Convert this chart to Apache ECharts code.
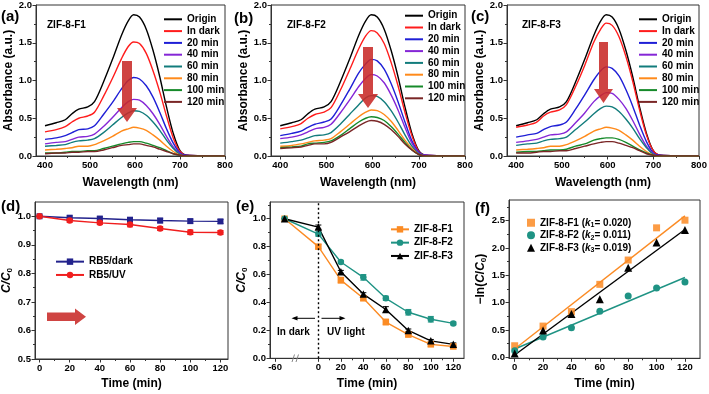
<!DOCTYPE html>
<html>
<head>
<meta charset="utf-8">
<script src="https://cdn.jsdelivr.net/npm/echarts@6.0.0/dist/echarts.min.js"></script>
<style>
  html, body { margin: 0; padding: 0; background: #fff; }
  #chart { width: 709px; height: 394px; }
</style>
</head>
<body>
<div id="chart"></div>
<script>
// ---- data: UV-vis spectra (a-c) ----
var wavelengths = [400, 425, 445, 460, 475, 495, 510, 530, 550, 570, 585, 597, 610, 625, 640, 655, 670, 685, 700, 715, 800];
var specNames = ['Origin', 'In dark', '20 min', '40 min', '60 min', '80 min', '100 min', '120 min'];
var origin = [0.40, 0.44, 0.48, 0.56, 0.62, 0.65, 0.72, 0.98, 1.28, 1.60, 1.79, 1.87, 1.84, 1.68, 1.40, 1.05, 0.65, 0.30, 0.07, 0.01, 0];

var aDark = [0.32, 0.35, 0.39, 0.45, 0.50, 0.53, 0.58, 0.79, 1.03, 1.29, 1.45, 1.51, 1.49, 1.36, 1.13, 0.85, 0.53, 0.24, 0.06, 0.01, 0];
var a20 = [0.22, 0.24, 0.27, 0.31, 0.35, 0.36, 0.40, 0.55, 0.71, 0.89, 1.00, 1.04, 1.02, 0.93, 0.78, 0.58, 0.36, 0.17, 0.04, 0.01, 0];
var a40 = [0.16, 0.18, 0.19, 0.22, 0.25, 0.26, 0.29, 0.39, 0.51, 0.64, 0.72, 0.75, 0.74, 0.67, 0.56, 0.42, 0.26, 0.12, 0.03, 0, 0];
var a60 = [0.13, 0.14, 0.15, 0.18, 0.20, 0.21, 0.23, 0.31, 0.41, 0.51, 0.57, 0.60, 0.59, 0.54, 0.45, 0.34, 0.21, 0.10, 0.02, 0, 0];
var a80 = [0.08, 0.09, 0.10, 0.11, 0.13, 0.13, 0.15, 0.20, 0.26, 0.33, 0.36, 0.38, 0.37, 0.34, 0.28, 0.21, 0.13, 0.06, 0.01, 0, 0];
var a100 = [0.04, 0.04, 0.05, 0.06, 0.06, 0.07, 0.07, 0.10, 0.13, 0.16, 0.18, 0.19, 0.19, 0.17, 0.14, 0.11, 0.07, 0.03, 0.01, 0, 0];
var a120 = [0.03, 0.04, 0.04, 0.05, 0.05, 0.06, 0.06, 0.08, 0.11, 0.14, 0.15, 0.16, 0.16, 0.14, 0.12, 0.09, 0.06, 0.03, 0.01, 0, 0];

var bDark = [0.36, 0.39, 0.43, 0.50, 0.55, 0.58, 0.64, 0.87, 1.14, 1.42, 1.59, 1.66, 1.63, 1.49, 1.24, 0.93, 0.58, 0.27, 0.06, 0.01, 0];
var b20 = [0.27, 0.30, 0.33, 0.38, 0.42, 0.45, 0.49, 0.67, 0.88, 1.10, 1.22, 1.28, 1.26, 1.15, 0.96, 0.72, 0.45, 0.20, 0.05, 0.01, 0];
var b40 = [0.23, 0.25, 0.28, 0.32, 0.36, 0.38, 0.42, 0.57, 0.74, 0.92, 1.03, 1.08, 1.06, 0.97, 0.81, 0.61, 0.38, 0.17, 0.04, 0.01, 0];
var b60 = [0.17, 0.19, 0.21, 0.24, 0.27, 0.28, 0.31, 0.42, 0.55, 0.68, 0.77, 0.80, 0.79, 0.72, 0.60, 0.45, 0.28, 0.13, 0.03, 0, 0];
var b80 = [0.13, 0.14, 0.16, 0.18, 0.20, 0.21, 0.23, 0.32, 0.42, 0.52, 0.58, 0.61, 0.60, 0.55, 0.46, 0.34, 0.21, 0.10, 0.02, 0, 0];
var b100 = [0.11, 0.12, 0.13, 0.16, 0.17, 0.18, 0.20, 0.27, 0.36, 0.45, 0.50, 0.52, 0.51, 0.47, 0.39, 0.29, 0.18, 0.08, 0.02, 0, 0];
var b120 = [0.10, 0.11, 0.12, 0.14, 0.16, 0.16, 0.18, 0.25, 0.32, 0.40, 0.45, 0.47, 0.46, 0.42, 0.35, 0.26, 0.16, 0.08, 0.02, 0, 0];

var cDark = [0.38, 0.41, 0.45, 0.53, 0.58, 0.61, 0.68, 0.92, 1.20, 1.51, 1.68, 1.76, 1.73, 1.58, 1.32, 0.99, 0.61, 0.28, 0.07, 0.01, 0];
var c20 = [0.25, 0.28, 0.30, 0.35, 0.39, 0.41, 0.45, 0.62, 0.81, 1.01, 1.13, 1.18, 1.16, 1.06, 0.88, 0.66, 0.41, 0.19, 0.04, 0.01, 0];
var c40 = [0.18, 0.20, 0.22, 0.25, 0.28, 0.29, 0.32, 0.44, 0.57, 0.72, 0.80, 0.84, 0.83, 0.75, 0.63, 0.47, 0.29, 0.13, 0.03, 0, 0];
var c60 = [0.14, 0.16, 0.17, 0.20, 0.22, 0.23, 0.25, 0.35, 0.45, 0.56, 0.63, 0.66, 0.65, 0.59, 0.49, 0.37, 0.23, 0.11, 0.02, 0, 0];
var c80 = [0.08, 0.09, 0.10, 0.11, 0.13, 0.13, 0.15, 0.20, 0.26, 0.33, 0.36, 0.38, 0.37, 0.34, 0.28, 0.21, 0.13, 0.06, 0.01, 0, 0];
var c100 = [0.05, 0.06, 0.06, 0.07, 0.08, 0.08, 0.09, 0.13, 0.16, 0.21, 0.23, 0.24, 0.24, 0.22, 0.18, 0.13, 0.08, 0.04, 0.01, 0, 0];
var c120 = [0.04, 0.04, 0.05, 0.06, 0.06, 0.07, 0.07, 0.10, 0.13, 0.16, 0.18, 0.19, 0.19, 0.17, 0.14, 0.11, 0.07, 0.03, 0.01, 0, 0];

// ---- data: (d) blank tests ----
var timeD = [0, 20, 40, 60, 80, 100, 120];
var darkD = [1.0, 0.995, 0.992, 0.988, 0.985, 0.983, 0.982];
var darkErr = [0, 0.006, 0.006, 0.007, 0.008, 0.007, 0.007];
var uvD = [1.0, 0.985, 0.977, 0.971, 0.957, 0.944, 0.943];
var uvErr = [0, 0.006, 0.006, 0.008, 0.007, 0.008, 0.007];

// ---- data: (e) degradation ----
var timeE = [-30, 0, 20, 40, 60, 80, 100, 120];
var sampleNames = ['ZIF-8-F1', 'ZIF-8-F2', 'ZIF-8-F3'];
var f1E = [1.0, 0.80, 0.56, 0.43, 0.26, 0.17, 0.10, 0.085];
var f2E = [1.0, 0.89, 0.69, 0.58, 0.43, 0.33, 0.28, 0.25];
var f3E = [1.0, 0.94, 0.62, 0.46, 0.35, 0.20, 0.125, 0.10];
var f1Err = [0, 0.015, 0.02, 0.015, 0.02, 0.015, 0.015, 0.01];
var f2Err = [0, 0.015, 0.01, 0.02, 0.015, 0.02, 0.02, 0.01];
var f3Err = [0, 0.015, 0.01, 0.01, 0.02, 0.01, 0.01, 0.01];

// ---- data: (f) kinetics ----
var timeF = [0, 20, 40, 60, 80, 100, 120];
var f1F = [0.21, 0.57, 0.835, 1.335, 1.78, 2.37, 2.51];
var f2F = [0.12, 0.37, 0.54, 0.84, 1.12, 1.27, 1.38];
var f3F = [0.07, 0.49, 0.79, 1.06, 1.64, 2.10, 2.33];
var fitX = [0, 120];
var fit1 = [0.15, 2.59];
var fit2 = [0.15, 1.46];
var fit3 = [0.04, 2.34];
var kinNames = ['F1 kinetics', 'F2 kinetics', 'F3 kinetics'];
var kValues = ['0.020', '0.011', '0.019'];

// ---- tick labels ----
var wlTicks = [400, 500, 600, 700, 800];
var wlMinor = [450, 550, 650, 750];
var absTicks = [0, 0.5, 1.0, 1.5, 2.0];
var absMinor = [0.25, 0.75, 1.25, 1.75];
var timeTicks = [0, 20, 40, 60, 80, 100, 120];
var timeMinor = [10, 30, 50, 70, 90, 110];
var ccTicksD = [0.5, 0.6, 0.7, 0.8, 0.9, 1.0];
var ccMinorD = [0.55, 0.65, 0.75, 0.85, 0.95];
var timeTicksE = [-38.5, 0, 20, 40, 60, 80, 100, 120];   // first tick is the broken "-60"
var ccTicksE = [0, 0.2, 0.4, 0.6, 0.8, 1.0];
var ccMinorE = [0.1, 0.3, 0.5, 0.7, 0.9, 1.1];
var lnTicks = [0, 0.5, 1.0, 1.5, 2.0, 2.5];
var lnMinor = [0.25, 0.75, 1.25, 1.75, 2.25, 2.75];

var FONT = '"Liberation Sans", Arial, Helvetica, sans-serif';
var AX = '#333';
var specColors = ['#000000', '#ff1c1c', '#1f1fd6', '#8526d6', '#127c7c', '#ff8a1a', '#168a2a', '#7a2626'];
var ORANGE = '#fb8b24', TEAL = '#1f9384', NAVY = '#22228c', RED = '#f01e1e';

function txt(size, extra) {
  return Object.assign({ fontFamily: FONT, fontWeight: 'bold', fontSize: size, color: '#000' }, extra || {});
}
var nameRich = {
  n: { fontFamily: FONT, fontWeight: 'bold', fontSize: 12, lineHeight: 14, verticalAlign: 'middle', color: '#000' },
  i: { fontFamily: FONT, fontWeight: 'bold', fontStyle: 'italic', fontSize: 12, lineHeight: 14, verticalAlign: 'middle', color: '#000' },
  s: { fontFamily: FONT, fontWeight: 'bold', fontSize: 8, lineHeight: 8, verticalAlign: 'bottom', color: '#000' }
};
var ccName = '{i|C}{i|/}{i|C}{s|0}';
var lnName = '{n|\u2212ln(}{i|C}{n|/}{i|C}{s|0}{n|)}';

var grids = [
  { left: 36, top: 5, width: 189, height: 151 },
  { left: 271, top: 5, width: 194, height: 151 },
  { left: 507, top: 5, width: 192, height: 151 },
  { left: 35, top: 202, width: 193, height: 157 },
  { left: 270, top: 202, width: 194, height: 156.3 },
  { left: 509, top: 200, width: 191, height: 158.3 }
].map(function (g) {
  return Object.assign({ show: true, borderColor: AX, borderWidth: 1, backgroundColor: 'transparent', containLabel: false, outerBoundsMode: 'none' }, g);
});

var fix1 = function (v) { return v.toFixed(1); };
var xCfg = [
  { min: 380, max: 800, ticks: wlTicks, minor: wlMinor, name: 'Wavelength (nm)', gap: 21 },
  { min: 380, max: 800, ticks: wlTicks, minor: wlMinor, name: 'Wavelength (nm)', gap: 21 },
  { min: 380, max: 800, ticks: wlTicks, minor: wlMinor, name: 'Wavelength (nm)', gap: 21 },
  { min: -3, max: 125, ticks: timeTicks, minor: timeMinor, name: 'Time (min)', gap: 19 },
  { min: -43, max: 129.5, ticks: timeTicksE, minor: timeMinor, name: 'Time (min)', gap: 19,
    fmt: function (v) { return v < -1 ? '-60' : String(v); } },
  { min: -4, max: 130.6, ticks: timeTicks, minor: timeMinor, name: 'Time (min)', gap: 19 }
];
var yCfg = [
  { min: 0, max: 2, ticks: absTicks, minor: absMinor, name: 'Absorbance (a.u.)', gap: 21, fmt: fix1 },
  { min: 0, max: 2, ticks: absTicks, minor: absMinor, name: 'Absorbance (a.u.)', gap: 21, fmt: fix1 },
  { min: 0, max: 2, ticks: absTicks, minor: absMinor, name: 'Absorbance (a.u.)', gap: 21, fmt: fix1 },
  { min: 0.5, max: 1.05, ticks: ccTicksD, minor: ccMinorD, name: ccName, gap: 19, fmt: fix1 },
  { min: 0, max: 1.12, ticks: ccTicksE, minor: ccMinorE, name: ccName, gap: 19, fmt: fix1 },
  { min: -0.02, max: 2.88, ticks: lnTicks, minor: lnMinor, name: lnName, gap: 20, fmt: fix1 }
];

function mainAxis(dim, g, c) {
  return {
    type: 'value', gridIndex: g, min: c.min, max: c.max,
    position: dim === 'x' ? 'bottom' : 'left',
    name: c.name, nameLocation: 'middle', nameGap: c.gap,
    nameTextStyle: txt(12, { rich: nameRich }),
    axisLine: { show: true, onZero: false, lineStyle: { color: AX, width: 1 } },
    axisTick: { show: true, inside: false, length: 3.5, customValues: c.ticks, lineStyle: { color: AX, width: 1 } },
    axisLabel: Object.assign(txt(9.5), { show: true, margin: 4, customValues: c.ticks, formatter: c.fmt || '{value}',
      showMinLabel: true, showMaxLabel: true, hideOverlap: false }),
    splitLine: { show: false },
    axisPointer: { show: false }
  };
}
function minorAxis(dim, g, c) {
  return {
    type: 'value', gridIndex: g, min: c.min, max: c.max,
    position: dim === 'x' ? 'bottom' : 'left',
    axisLine: { show: false, onZero: false },
    axisLabel: { show: false },
    axisTick: { show: true, inside: false, length: 2, customValues: c.minor, lineStyle: { color: AX, width: 1 } },
    splitLine: { show: false },
    axisPointer: { show: false }
  };
}
var xAxes = [], yAxes = [];
xCfg.forEach(function (c, g) { xAxes.push(mainAxis('x', g, c)); });
yCfg.forEach(function (c, g) { yAxes.push(mainAxis('y', g, c)); });
xCfg.forEach(function (c, g) { xAxes.push(minorAxis('x', g, c)); });
yCfg.forEach(function (c, g) { yAxes.push(minorAxis('y', g, c)); });

function pairs(xs, ys) { return xs.map(function (x, i) { return [x, ys[i]]; }); }

var series = [];
[
  [origin, aDark, a20, a40, a60, a80, a100, a120],
  [origin, bDark, b20, b40, b60, b80, b100, b120],
  [origin, cDark, c20, c40, c60, c80, c100, c120]
].forEach(function (curves, g) {
  curves.forEach(function (vals, i) {
    series.push({
      type: 'line', name: specNames[i], xAxisIndex: g, yAxisIndex: g,
      data: pairs(wavelengths, vals), symbol: 'none', showSymbol: false,
      smooth: 0.3, lineStyle: { color: specColors[i], width: 1.4 },
      itemStyle: { color: specColors[i] }, z: 2, silent: true
    });
  });
});

function errSeries(g, xs, ys, errs, color) {
  return {
    type: 'custom', xAxisIndex: g, yAxisIndex: g, z: 2, silent: true,
    data: xs.map(function (x, i) { return [x, ys[i] - errs[i], ys[i] + errs[i]]; }),
    encode: { x: 0, y: [1, 2] },
    renderItem: function (params, api) {
      var lo = api.coord([api.value(0), api.value(1)]);
      var hi = api.coord([api.value(0), api.value(2)]);
      var w = 3;
      var st = { stroke: color, lineWidth: 1 };
      return { type: 'group', children: [
        { type: 'line', shape: { x1: lo[0], y1: lo[1], x2: hi[0], y2: hi[1] }, style: st },
        { type: 'line', shape: { x1: lo[0] - w, y1: lo[1], x2: lo[0] + w, y2: lo[1] }, style: st },
        { type: 'line', shape: { x1: hi[0] - w, y1: hi[1], x2: hi[0] + w, y2: hi[1] }, style: st }
      ] };
    }
  };
}
function markLineSeries(g, name, xs, ys, color, symbol, size) {
  return {
    type: 'line', name: name, xAxisIndex: g, yAxisIndex: g, data: pairs(xs, ys),
    symbol: symbol, symbolSize: size, showSymbol: true,
    lineStyle: { color: color, width: 1.4 }, itemStyle: { color: color }, z: 3, silent: true
  };
}

// (d)
series.push(errSeries(3, timeD, darkD, darkErr, NAVY));
series.push(errSeries(3, timeD, uvD, uvErr, RED));
series.push(markLineSeries(3, 'RB5/dark', timeD, darkD, NAVY, 'rect', 6));
series.push(markLineSeries(3, 'RB5/UV', timeD, uvD, RED, 'circle', 6.5));

// (e)
var eColors = [ORANGE, TEAL, '#000000'];
var eSymbols = ['rect', 'circle', 'triangle'];
[[f1E, f1Err], [f2E, f2Err], [f3E, f3Err]].forEach(function (p, i) {
  series.push(errSeries(4, timeE, p[0], p[1], eColors[i]));
});
[f1E, f2E, f3E].forEach(function (vals, i) {
  var s = markLineSeries(4, sampleNames[i], timeE, vals, eColors[i], eSymbols[i], i === 2 ? 7.5 : 6.5);
  if (i === 0) {
    s.markLine = { silent: true, symbol: 'none', label: { show: false },
      lineStyle: { type: [2, 2.5], color: '#000', width: 1.4 }, data: [{ xAxis: 0 }] };
  }
  series.push(s);
});

// (f)
[[fit1, ORANGE], [fit2, TEAL], [fit3, '#000000']].forEach(function (p) {
  series.push({ type: 'line', xAxisIndex: 5, yAxisIndex: 5, data: pairs(fitX, p[0]), symbol: 'none',
    lineStyle: { color: p[1], width: 1.4 }, z: 2, silent: true });
});
[f1F, f2F, f3F].forEach(function (vals, i) {
  series.push({ type: 'scatter', name: kinNames[i], xAxisIndex: 5, yAxisIndex: 5, data: pairs(timeF, vals),
    symbol: eSymbols[i], symbolSize: i === 2 ? 8 : 7, itemStyle: { color: eColors[i], opacity: i === 0 ? 0.85 : 1 }, z: 3, silent: true });
});

function specLegend(left, top) {
  return { data: specNames, left: left, top: top, orient: 'vertical', icon: 'rect', itemWidth: 18, itemHeight: 2,
    itemGap: 0, padding: 0, selectedMode: false, textStyle: txt(10, { lineHeight: 11.8 }) };
}
var legendRich = {
  n: { fontFamily: FONT, fontWeight: 'bold', fontSize: 10, lineHeight: 12.5, verticalAlign: 'middle', color: '#000' },
  k: { fontFamily: FONT, fontWeight: 'bold', fontStyle: 'italic', fontSize: 10, lineHeight: 12.5, verticalAlign: 'middle', color: '#000' },
  s: { fontFamily: FONT, fontWeight: 'bold', fontSize: 7, lineHeight: 7, verticalAlign: 'bottom', color: '#000' }
};

var ARROW = 'rgba(200,42,40,0.88)';
function label(text, x, y, size, extra) {
  return { type: 'text', x: x, y: y, z: 50, silent: true,
    style: Object.assign({ text: text, fontFamily: FONT, fontWeight: 'bold', fontSize: size, fill: '#000',
      align: 'left', verticalAlign: 'middle' }, extra || {}) };
}
var graphics = [
  label('(a)', 1, 17, 15), label('(b)', 234, 18.5, 15), label('(c)', 471, 17, 15),
  label('(d)', 1, 207, 15), label('(e)', 236, 207, 15), label('(f)', 475, 209, 15),
  label('ZIF-8-F1', 47, 25, 10), label('ZIF-8-F2', 287, 25, 10), label('ZIF-8-F3', 522, 25, 10),
  label('In dark', 277, 332, 10), label('UV light', 327, 332, 10),
  { type: 'polygon', z: 60, silent: true, shape: { points: [[122, 61], [132, 61], [132, 108], [137, 108], [127, 122], [117, 108], [122, 108]] }, style: { fill: ARROW } },
  { type: 'polygon', z: 60, silent: true, shape: { points: [[363, 47], [373, 47], [373, 94], [378, 94], [368, 108], [358, 94], [363, 94]] }, style: { fill: ARROW } },
  { type: 'polygon', z: 60, silent: true, shape: { points: [[599, 42], [608, 42], [608, 89], [613, 89], [603.5, 103], [594, 89], [599, 89]] }, style: { fill: ARROW } },
  { type: 'polygon', z: 60, silent: true, shape: { points: [[47, 312.5], [75, 312.5], [75, 308.5], [86, 316.8], [75, 325], [75, 321], [47, 321]] }, style: { fill: ARROW } },
  { type: 'line', z: 60, silent: true, shape: { x1: 315, y1: 318.3, x2: 294, y2: 318.3 }, style: { stroke: '#000', lineWidth: 1 } },
  { type: 'polygon', z: 60, silent: true, shape: { points: [[291.5, 318.3], [297.5, 316], [297.5, 320.6]] }, style: { fill: '#000' } },
  { type: 'line', z: 60, silent: true, shape: { x1: 321.5, y1: 318.3, x2: 343, y2: 318.3 }, style: { stroke: '#000', lineWidth: 1 } },
  { type: 'polygon', z: 60, silent: true, shape: { points: [[345.5, 318.3], [339.5, 316], [339.5, 320.6]] }, style: { fill: '#000' } },
  { type: 'line', z: 60, silent: true, shape: { x1: 292, y1: 362, x2: 294.5, y2: 354.5 }, style: { stroke: '#888', lineWidth: 1 } },
  { type: 'line', z: 60, silent: true, shape: { x1: 296, y1: 362, x2: 298.5, y2: 354.5 }, style: { stroke: '#888', lineWidth: 1 } }
];

var chart = echarts.init(document.getElementById('chart'), null, { renderer: 'canvas' });
chart.setOption({
  animation: false,
  backgroundColor: '#ffffff',
  textStyle: { fontFamily: FONT },
  grid: grids,
  xAxis: xAxes,
  yAxis: yAxes,
  legend: [
    specLegend(164, 13.4), specLegend(405, 9.8), specLegend(639, 13.4),
    { data: ['RB5/dark', 'RB5/UV'], left: 55, top: 255, orient: 'vertical', itemWidth: 28, itemHeight: 8,
      itemGap: 0, padding: 0, selectedMode: false, textStyle: txt(10, { lineHeight: 13.3 }) },
    { data: sampleNames, left: 390, top: 222.7, orient: 'vertical', itemWidth: 18, itemHeight: 8,
      itemGap: 0, padding: 0, selectedMode: false, textStyle: txt(10, { lineHeight: 13.3 }) },
    { data: kinNames, left: 527, top: 216.5, orient: 'vertical', itemWidth: 8, itemHeight: 8,
      itemGap: 0, padding: 0, selectedMode: false,
      formatter: function (name) {
        var i = kinNames.indexOf(name);
        return '{n|ZIF-8-F' + (i + 1) + ' (}{k|k}{s|' + (i + 1) + '}{n|= ' + kValues[i] + ')}';
      },
      textStyle: txt(10, { lineHeight: 12.5, rich: legendRich }) }
  ],
  graphic: graphics,
  series: series
});
</script>
</body>
</html>
